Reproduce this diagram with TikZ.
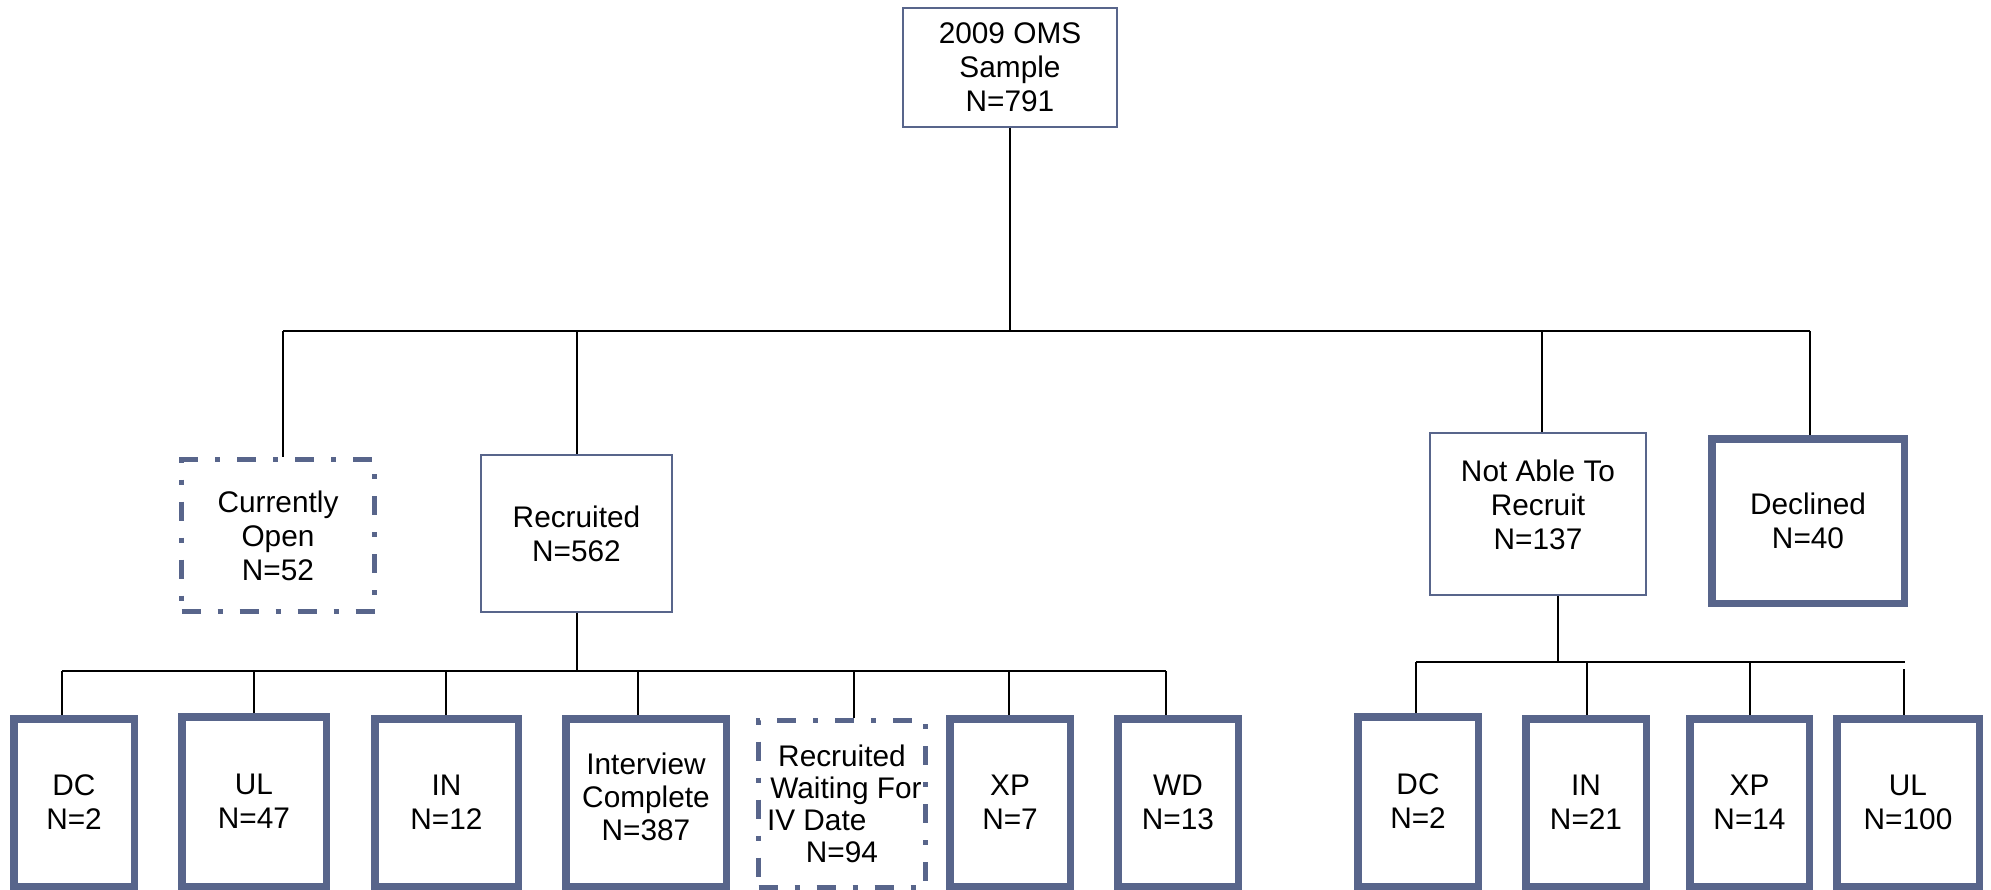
\documentclass[tikz,border=0pt]{standalone}
\usepackage{fontspec}
\setmainfont{Liberation Sans}
\definecolor{bcol}{RGB}{88,101,139}
\tikzset{
  boxfont/.style={font=\fontsize{29.8}{34}\selectfont},
  boxbase/.style={rectangle, draw=bcol, inner sep=0pt, align=center, text=black, boxfont},
  thinbox/.style={boxbase, line width=1.8pt},
  thickbox/.style={boxbase, line width=7.5pt},
  ddbox/.style={boxbase, line width=5pt, dash pattern=on 19pt off 17pt on 5pt off 17pt},
  conn/.style={draw=black, line width=2pt},
  lifted/.style={label={[align=center, text=black, boxfont, inner sep=0pt, yshift=#1]center:}},
}
\begin{document}
\begin{tikzpicture}[x=1pt,y=-1pt]
\useasboundingbox (0,0) rectangle (1991,890);
% level 0 and 1
\node[thinbox, minimum width=214pt, minimum height=119pt] (top) at (1010,67.5) {2009 OMS\\Sample\\N=791};
\node[ddbox, minimum width=193pt, minimum height=152pt] (co) at (278,535.5) {Currently\\Open\\N=52};
\node[thinbox, minimum width=191pt, minimum height=157pt] (rec) at (576.5,533.5) {Recruited\\N=562};
\node[thinbox, minimum width=216pt, minimum height=162pt,
  label={[align=center, boxfont, inner sep=0pt, yshift=9pt]center:Not Able To\\Recruit\\N=137}] (na) at (1538,514) {};
\node[thickbox, minimum width=192.5pt, minimum height=164.5pt] (dec) at (1808,521) {Declined\\N=40};
% level 2 left
\node[thickbox, minimum width=120.5pt, minimum height=167.5pt] (dc) at (74,802.5) {DC\\N=2};
\node[thickbox, minimum width=144.5pt, minimum height=169.5pt] (ul) at (254,801.5) {UL\\N=47};
\node[thickbox, minimum width=143.5pt, minimum height=167.5pt] (in) at (446.5,802.5) {IN\\N=12};
\node[thickbox, minimum width=160.5pt, minimum height=167.5pt,
  label={[align=center, font=\fontsize{29.8}{33}\selectfont, inner sep=0pt, yshift=6pt]center:Interview\\Complete\\N=387}] (ic) at (646,802.5) {};
\node[ddbox, minimum width=167pt, minimum height=167pt, font=\fontsize{29.8}{32}\selectfont] (rw) at (842,804) {Recruited\\\hspace*{8pt}Waiting For\\\makebox[150pt][l]{IV Date}\\N=94};
\node[thickbox, minimum width=120.5pt, minimum height=167.5pt] (xp) at (1010,802.5) {XP\\N=7};
\node[thickbox, minimum width=120.5pt, minimum height=167.5pt] (wd) at (1178,802.5) {WD\\N=13};
% level 2 right
\node[thickbox, minimum width=120.5pt, minimum height=169.5pt] (dc2) at (1418,801.5) {DC\\N=2};
\node[thickbox, minimum width=120.5pt, minimum height=167.5pt] (in2) at (1586,802.5) {IN\\N=21};
\node[thickbox, minimum width=119.5pt, minimum height=167.5pt] (xp2) at (1749.5,802.5) {XP\\N=14};
\node[thickbox, minimum width=142.5pt, minimum height=167.5pt] (ul2) at (1908,802.5) {UL\\N=100};
% main bus
\coordinate (b0) at (1010,331);
\coordinate (bco) at (283,331);
\coordinate (brec) at (577,331);
\coordinate (bna) at (1542,331);
\coordinate (bdec) at (1810,331);
\draw[conn] (top.south) -- (b0);
\draw[conn] (bco) -- (bdec);
\draw[conn] (bco) -- (bco |- co.north);
\draw[conn] (brec) -- (brec |- rec.north);
\draw[conn] (bna) -- (bna |- na.north);
\draw[conn] (bdec) -- (bdec |- dec.north);
% left bus
\coordinate (l0) at (577,671);
\coordinate (l1) at (62,671);
\coordinate (l2) at (254,671);
\coordinate (l3) at (446,671);
\coordinate (l4) at (638,671);
\coordinate (l5) at (854,671);
\coordinate (l6) at (1009,671);
\coordinate (l7) at (1166,671);
\draw[conn] (l0 |- rec.south) -- (l0);
\draw[conn] (l1) -- (l7);
\draw[conn] (l1) -- (l1 |- dc.north);
\draw[conn] (l2) -- (l2 |- ul.north);
\draw[conn] (l3) -- (l3 |- in.north);
\draw[conn] (l4) -- (l4 |- ic.north);
\draw[conn] (l5) -- (l5 |- rw.north);
\draw[conn] (l6) -- (l6 |- xp.north);
\draw[conn] (l7) -- (l7 |- wd.north);
% right bus
\coordinate (r0) at (1558,662);
\coordinate (r1) at (1416,662);
\coordinate (r2) at (1587,662);
\coordinate (r3) at (1750,662);
\coordinate (r4) at (1905,662);
\coordinate (r4s) at (1904,669);
\draw[conn] (r0 |- na.south) -- (r0);
\draw[conn] (r1) -- (r4);
\draw[conn] (r1) -- (r1 |- dc2.north);
\draw[conn] (r2) -- (r2 |- in2.north);
\draw[conn] (r3) -- (r3 |- xp2.north);
\draw[conn] (r4s) -- (r4s |- ul2.north);
\end{tikzpicture}
\end{document}
